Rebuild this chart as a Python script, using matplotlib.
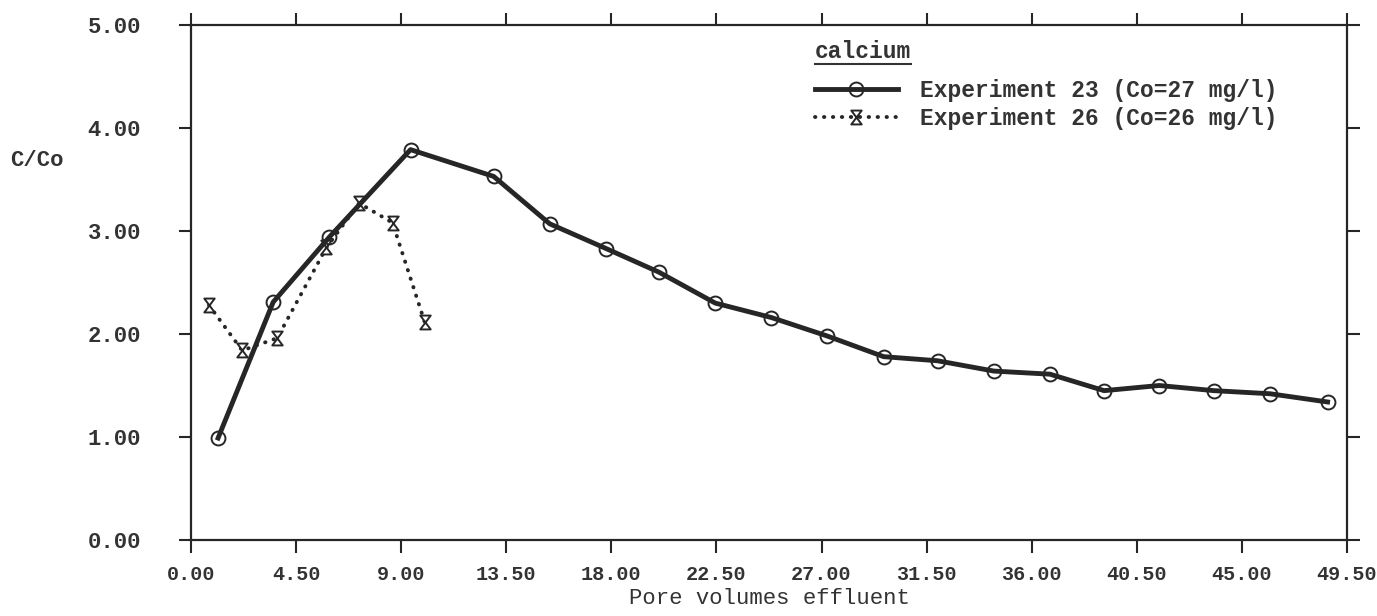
import matplotlib
matplotlib.use("Agg")
import matplotlib.pyplot as plt
from matplotlib.path import Path
from matplotlib.lines import Line2D

# Experiment 23 (Co = 27 mg/l)
pv_exp23 = [1.16, 3.52, 5.92, 9.40, 12.96, 15.36, 17.77, 20.04, 22.45, 24.85,
            27.25, 29.66, 31.97, 34.38, 36.78, 39.10, 41.46, 43.80, 46.20, 48.67]
c_exp23 = [0.99, 2.31, 2.94, 3.79, 3.53, 3.07, 2.83, 2.60, 2.30, 2.16,
           1.98, 1.78, 1.74, 1.64, 1.61, 1.45, 1.50, 1.45, 1.42, 1.34]

# Experiment 26 (Co = 26 mg/l)
pv_exp26 = [0.77, 2.19, 3.69, 5.80, 7.20, 8.63, 10.00]
c_exp26 = [2.28, 1.84, 1.96, 2.84, 3.27, 3.08, 2.12]

x_ticks = [0.0, 4.5, 9.0, 13.5, 18.0, 22.5, 27.0, 31.5, 36.0, 40.5, 45.0, 49.5]
y_ticks = [0.0, 1.0, 2.0, 3.0, 4.0, 5.0]

label_exp23 = "Experiment 23 (Co=27 mg/l)"
label_exp26 = "Experiment 26 (Co=26 mg/l)"
legend_title = "calcium"

INK = "#262626"
TXT = "#333333"
FONT = "Liberation Mono"

plt.rcParams["font.family"] = [FONT, "DejaVu Sans Mono"]
plt.rcParams["font.weight"] = "bold"

fig = plt.figure(figsize=(13.77, 6.16), dpi=100)
ax = fig.add_axes([191 / 1377, 1 - 540 / 616, (1347 - 191) / 1377, (540 - 25) / 616])

# hollow hourglass marker for experiment 26
hourglass = Path([(-0.75, 1), (0.75, 1), (-0.75, -1), (0.75, -1), (-0.75, 1)],
                 [Path.MOVETO, Path.LINETO, Path.LINETO, Path.LINETO, Path.CLOSEPOLY])

l26, = ax.plot(pv_exp26, c_exp26, color=INK, lw=2.8, linestyle=(0, (0.1, 2.2)),
               dash_capstyle="round", marker=hourglass, markersize=10,
               markerfacecolor="white", markeredgecolor=INK, markeredgewidth=1.4,
               label=label_exp26, zorder=3)
l23, = ax.plot(pv_exp23, c_exp23, color=INK, lw=3.5, marker="o", markersize=10,
               markerfacecolor="none", markeredgecolor=INK, markeredgewidth=1.4,
               label=label_exp23, zorder=4)

ax.set_xlim(0, 49.5)
ax.set_ylim(0, 5)
ax.set_xticks(x_ticks)
ax.set_xticklabels([f"{v:.2f}" for v in x_ticks])
ax.set_yticks(y_ticks)
ax.set_yticklabels([f"{v:.2f}" for v in y_ticks])

for s in ax.spines.values():
    s.set_color(INK)
    s.set_linewidth(1.6)

ax.tick_params(axis="both", which="major", direction="out", top=True, right=True,
               length=9, width=1.5, color=INK, labelcolor=TXT)
ax.tick_params(axis="x", labelsize=14.5, pad=9)
ax.tick_params(axis="y", labelsize=16, pad=27)

ax.set_xlabel("Pore volumes effluent", fontsize=16, color=TXT, labelpad=3)
fig.text(37 / 1377, 1 - 160 / 616, "C/Co", fontsize=16, color=TXT,
         ha="center", va="center")

leg = ax.legend(handles=[l23, l26], loc="upper left", bbox_to_anchor=(0.540, 0.896),
                frameon=False, fontsize=16.5, borderpad=0, borderaxespad=0,
                handlelength=3.6, handletextpad=0.95, labelspacing=0.22,
                labelcolor=TXT)

ax.text(0.540, 0.948, legend_title, transform=ax.transAxes, fontsize=16.5,
        color=TXT, ha="left", va="center")
ax.add_line(Line2D([0.540, 0.623], [0.924, 0.924], transform=ax.transAxes,
                   color=TXT, lw=1.5, clip_on=False))

fig.savefig("out.png", dpi=100, facecolor="white")
